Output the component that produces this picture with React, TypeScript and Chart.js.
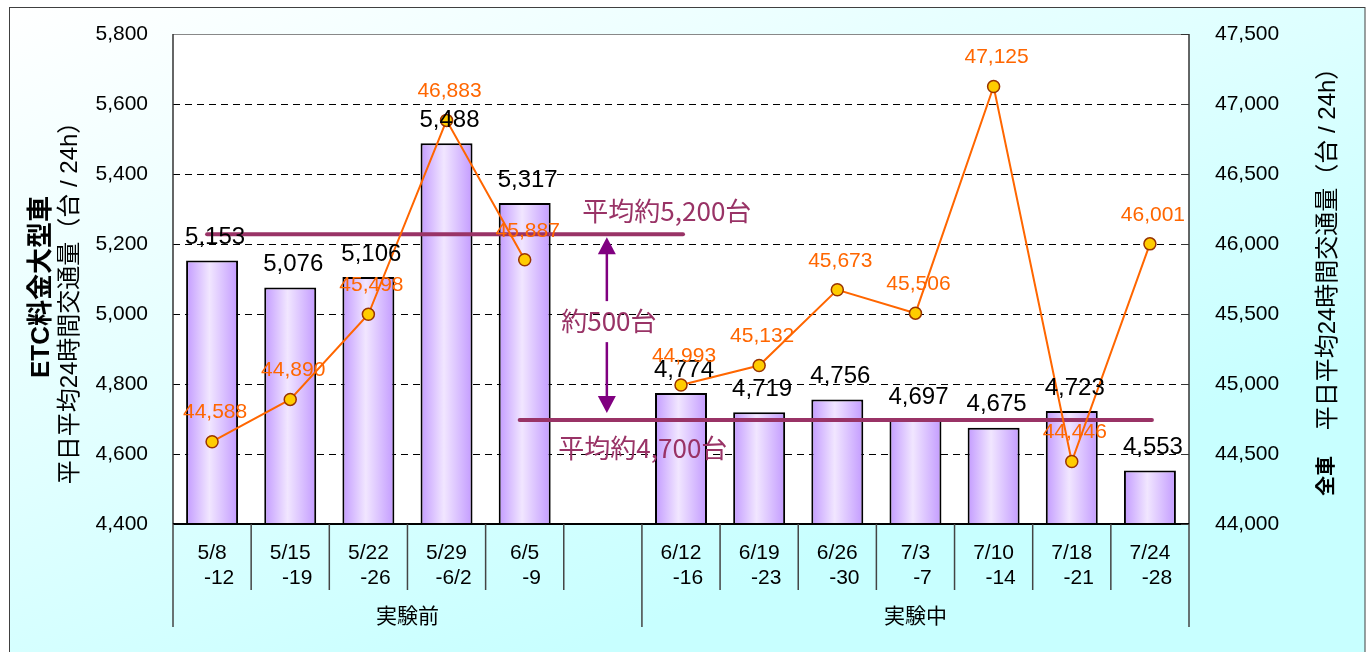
import React, { useEffect, useRef } from "react";
import { Chart, registerables } from "chart.js";

Chart.register(...registerables);

// ---- data ----
const weekStart = ["5/8", "5/15", "5/22", "5/29", "6/5", "", "6/12", "6/19", "6/26", "7/3", "7/10", "7/18", "7/24"];
const weekEnd = ["-12", "-19", "-26", "-6/2", "-9", "", "-16", "-23", "-30", "-7", "-14", "-21", "-28"];
const etcLargeVolume = [5153, 5076, 5106, 5488, 5317, null, 4774, 4719, 4756, 4697, 4675, 4723, 4553];
const allVehicleVolume = [44588, 44890, 45498, 46883, 45887, null, 44993, 45132, 45673, 45506, 47125, 44446, 46001];
const groupLabels = ["実験前", "実験中"];
const groupFirstIndex = [0, 6];
const groupLastIndex = [5, 12];
const averageLabels = ["平均約5,200台", "平均約4,700台"];
const averageValues = [5228, 4697];
const averageFromIndex = [0, 4];
const averageToIndex = [6, 12];
const differenceLabel = "約500台";
const differenceIndex = 5;
const leftTitleBold = "ETC料金大型車";
const rightTitleBold = "全車";
const axisSubtitle = "平日平均24時間交通量（台 / 24h）";
const leftMin = 4400, leftMax = 5800, leftStep = 200;
const rightMin = 44000, rightMax = 47500, rightStep = 500;

const NUM_FONT = '"Liberation Sans", "Noto Sans CJK JP", Arial, sans-serif';
const JP_FONT = '"Noto Sans CJK JP", "Liberation Sans", sans-serif';
const BAR_FRACTION = 0.665;
const fmt = (v: number) => Number(v).toLocaleString("en-US");

function vText(ctx: CanvasRenderingContext2D, text: string, x: number, y: number, font: string) {
  ctx.save();
  ctx.translate(x, y);
  ctx.rotate(-Math.PI / 2);
  ctx.font = font;
  ctx.textAlign = "center";
  ctx.textBaseline = "middle";
  ctx.fillStyle = "#000";
  ctx.fillText(text, 0, 0);
  ctx.restore();
}

const decorPlugin = {
  id: "decor",
  beforeDraw(chart: any) {
    const { ctx, width, height, chartArea: a } = chart;
    ctx.save();
    ctx.fillStyle = "#ffffff";
    ctx.fillRect(0, 0, width, height);
    const g = ctx.createLinearGradient(10, 7, 296, 758);
    g.addColorStop(0, "#ffffff");
    g.addColorStop(1, "#c8ffff");
    ctx.fillStyle = g;
    ctx.fillRect(9.5, 7.5, 1355.5, 700);
    ctx.strokeStyle = "#404040";
    ctx.lineWidth = 1;
    ctx.strokeRect(9.5, 7.5, 1355.5, 700);
    ctx.fillStyle = "#ffffff";
    ctx.fillRect(a.left, a.top, a.right - a.left, a.bottom - a.top);
    ctx.restore();
  },
  afterDatasetDraw(chart: any, args: any) {
    if (args.index !== 0) return;
    const { ctx } = chart;
    const xs = chart.scales.x, ys = chart.scales.y;
    ctx.save();
    ctx.strokeStyle = "#993366";
    ctx.lineWidth = 4;
    ctx.lineCap = "round";
    for (let i = 0; i < averageValues.length; i++) {
      const y = ys.getPixelForValue(averageValues[i]);
      ctx.beginPath();
      ctx.moveTo(xs.getPixelForValue(averageFromIndex[i]) - 5, y);
      ctx.lineTo(xs.getPixelForValue(averageToIndex[i]) + 2, y);
      ctx.stroke();
    }
    ctx.restore();
  },
  afterDatasetsDraw(chart: any) {
    const { ctx, chartArea: a } = chart;
    const xs = chart.scales.x, ys = chart.scales.y, y1 = chart.scales.y1;
    ctx.save();
    // plot borders
    ctx.lineWidth = 1;
    ctx.strokeStyle = "#888";
    ctx.beginPath(); ctx.moveTo(a.left, a.top + 0.5); ctx.lineTo(a.right, a.top + 0.5); ctx.stroke();
    ctx.strokeStyle = "#333";
    ctx.lineWidth = 1.5;
    ctx.beginPath(); ctx.moveTo(a.right, a.top); ctx.lineTo(a.right, a.bottom); ctx.stroke();
    ctx.beginPath(); ctx.moveTo(a.left, a.top); ctx.lineTo(a.left, a.bottom); ctx.stroke();
    ctx.strokeStyle = "#000";
    ctx.lineWidth = 2;
    ctx.beginPath(); ctx.moveTo(a.left, a.bottom); ctx.lineTo(a.right, a.bottom); ctx.stroke();
    // right axis inner tick marks
    ctx.lineWidth = 1;
    ctx.strokeStyle = "#333";
    for (const t of y1.ticks) {
      const y = Math.round(y1.getPixelForValue(t.value)) + 0.5;
      ctx.beginPath(); ctx.moveTo(a.right - 8, y); ctx.lineTo(a.right, y); ctx.stroke();
    }

    // data labels
    const barMeta = chart.getDatasetMeta(0);
    ctx.textAlign = "center";
    ctx.textBaseline = "middle";
    ctx.font = `24px ${NUM_FONT}`;
    ctx.fillStyle = "#000";
    etcLargeVolume.forEach((v, i) => {
      if (v == null) return;
      const el = barMeta.data[i];
      ctx.fillText(fmt(v), el.x + 3, el.y - 23);
    });
    const lineMeta = chart.getDatasetMeta(1);
    ctx.font = `21px ${NUM_FONT}`;
    ctx.fillStyle = "#ff6600";
    allVehicleVolume.forEach((v, i) => {
      if (v == null) return;
      const el = lineMeta.data[i];
      ctx.fillText(fmt(v), el.x + 3, el.y - 29);
    });

    // average annotations
    const ax = xs.getPixelForValue(differenceIndex) + 4;
    const yTop = ys.getPixelForValue(averageValues[0]);
    const yBot = ys.getPixelForValue(averageValues[1]);
    ctx.font = `26px ${JP_FONT}`;
    ctx.fillStyle = "#993366";
    ctx.fillText(averageLabels[0], ax + 60, yTop - 23);
    ctx.fillText(averageLabels[1], ax + 36, yBot + 28);
    const mid = (yTop + yBot) / 2 - 3;
    ctx.fillText(differenceLabel, ax + 2, mid - 3);
    // arrow
    ctx.strokeStyle = "#800080";
    ctx.fillStyle = "#800080";
    ctx.lineWidth = 2.5;
    const tipTop = yTop + 3, tipBot = yBot - 7, headL = 17, headW = 9;
    ctx.beginPath(); ctx.moveTo(ax, tipTop + headL - 1); ctx.lineTo(ax, mid - 23); ctx.stroke();
    ctx.beginPath(); ctx.moveTo(ax, mid + 18); ctx.lineTo(ax, tipBot - headL + 1); ctx.stroke();
    ctx.beginPath(); ctx.moveTo(ax, tipTop); ctx.lineTo(ax - headW, tipTop + headL); ctx.lineTo(ax + headW, tipTop + headL); ctx.closePath(); ctx.fill();
    ctx.beginPath(); ctx.moveTo(ax, tipBot); ctx.lineTo(ax - headW, tipBot - headL); ctx.lineTo(ax + headW, tipBot - headL); ctx.closePath(); ctx.fill();

    // category labels
    const n = weekStart.length;
    const cw = (a.right - a.left) / n;
    ctx.fillStyle = "#000";
    ctx.font = `21px ${NUM_FONT}`;
    for (let i = 0; i < n; i++) {
      const x = xs.getPixelForValue(i);
      ctx.fillText(weekStart[i], x, 553);
      ctx.fillText(weekEnd[i], x + 7, 578);
    }
    // separators
    ctx.strokeStyle = "#444";
    ctx.lineWidth = 1.5;
    const groupEdges = new Set<number>();
    groupFirstIndex.forEach((g) => groupEdges.add(g));
    groupLastIndex.forEach((g) => groupEdges.add(g + 1));
    for (let b = 0; b <= n; b++) {
      const x = b < n ? xs.getPixelForValue(b) - cw / 2 : xs.getPixelForValue(n - 1) + cw / 2;
      const yEnd = groupEdges.has(b) ? 627 : 590;
      ctx.beginPath(); ctx.moveTo(x, a.bottom); ctx.lineTo(x, yEnd); ctx.stroke();
    }
    ctx.font = `21px ${JP_FONT}`;
    groupLabels.forEach((g, k) => {
      const x0 = xs.getPixelForValue(groupFirstIndex[k]) - cw / 2;
      const x1 = xs.getPixelForValue(groupLastIndex[k]) + cw / 2;
      ctx.fillText(g, (x0 + x1) / 2, 615);
    });

    // axis titles
    vText(ctx, leftTitleBold, 42, 287, `bold 26px ${NUM_FONT}`);
    vText(ctx, axisSubtitle, 70, 297, `24px ${NUM_FONT}`);
    vText(ctx, axisSubtitle, 1328, 243, `24px ${NUM_FONT}`);
    vText(ctx, rightTitleBold, 1327, 476, `bold 20px ${NUM_FONT}`);
    ctx.restore();
  },
};

export default function App() {
  const ref = useRef<HTMLCanvasElement>(null);
  useEffect(() => {
    document.body.style.margin = "0";
    const canvas = ref.current!;
    const chart = new Chart(canvas, {
      type: "bar",
      data: {
        labels: weekStart.map((s, i) => `${s} ${weekEnd[i]}` || String(i)),
        datasets: [
          {
            type: "bar",
            label: leftTitleBold,
            data: etcLargeVolume,
            yAxisID: "y",
            order: 2,
            backgroundColor: (c: any) => {
              const ch = c.chart;
              if (!ch.chartArea || c.dataIndex == null) return "#dcc4ff";
              const xs = ch.scales.x;
              const cx = xs.getPixelForValue(c.dataIndex);
              const half = ((ch.chartArea.right - ch.chartArea.left) / weekStart.length) * BAR_FRACTION / 2;
              const g = ch.ctx.createLinearGradient(cx - half, 0, cx + half, 0);
              g.addColorStop(0, "#c39bff");
              g.addColorStop(0.45, "#f1e6ff");
              g.addColorStop(1, "#c39bff");
              return g;
            },
            borderColor: "#000",
            borderWidth: 2,
            borderSkipped: false,
            categoryPercentage: 1,
            barPercentage: BAR_FRACTION,
          } as any,
          {
            type: "line",
            label: rightTitleBold,
            data: allVehicleVolume,
            yAxisID: "y1",
            order: 1,
            borderColor: "#ff6600",
            borderWidth: 2,
            pointRadius: 6,
            pointBackgroundColor: "#ffcc00",
            pointBorderColor: "#993300",
            pointBorderWidth: 1.5,
            spanGaps: false,
            fill: false,
            tension: 0,
          } as any,
        ],
      },
      options: {
        animation: false,
        responsive: false,
        devicePixelRatio: 1,
        layout: { padding: { top: 34, left: 0, right: 0, bottom: 0 } },
        plugins: { legend: { display: false }, tooltip: { enabled: false } },
        scales: {
          x: {
            type: "category",
            offset: true,
            grid: { display: false },
            ticks: { display: false },
            border: { display: false },
            afterFit: (s: any) => { s.height = 128; s.paddingLeft = 0; s.paddingRight = 0; },
          },
          y: {
            position: "left",
            min: leftMin,
            max: leftMax,
            ticks: {
              stepSize: leftStep,
              padding: 25,
              color: "#000",
              font: { size: 21, family: NUM_FONT },
              callback: (v: any) => fmt(v),
            },
            grid: {
              drawTicks: false,
              lineWidth: 1,
              color: (c: any) => (c.tick && (c.tick.value === leftMin || c.tick.value === leftMax) ? "rgba(0,0,0,0)" : "#000"),
            },
            border: { display: false, dash: [7, 5] },
            afterFit: (s: any) => { s.width = 173; s.paddingTop = 0; s.paddingBottom = 0; },
          },
          y1: {
            position: "right",
            min: rightMin,
            max: rightMax,
            ticks: {
              stepSize: rightStep,
              padding: 26,
              color: "#000",
              font: { size: 21, family: NUM_FONT },
              callback: (v: any) => fmt(v),
            },
            grid: { display: false, drawTicks: false, drawOnChartArea: false },
            border: { display: false },
            afterFit: (s: any) => { s.width = 182; s.paddingTop = 0; s.paddingBottom = 0; },
          },
        },
      } as any,
      plugins: [decorPlugin],
    });
    return () => chart.destroy();
  }, []);
  return (
    <div style={{ position: "absolute", left: 0, top: 0, width: 1371, height: 652 }}>
      <canvas ref={ref} width={1371} height={652} style={{ display: "block", width: 1371, height: 652 }} />
    </div>
  );
}
